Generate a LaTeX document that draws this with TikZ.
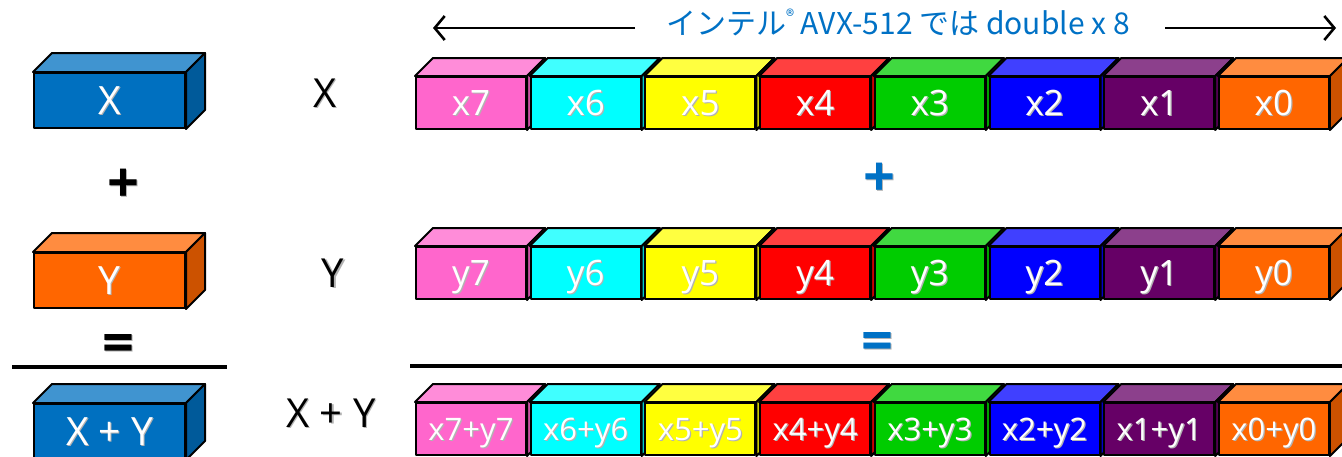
\documentclass[tikz,border=0pt]{standalone}
\usepackage{fontspec}
\setmainfont{Open Sans}
\newfontfamily\jpfont{Noto Sans CJK JP}
\usetikzlibrary{arrows.meta, positioning}
\definecolor{colIntel}{RGB}{0, 113, 197}
\definecolor{colBlock}{RGB}{0, 112, 192}
\definecolor{colPink}{RGB}{255, 102, 204}
\definecolor{colCyan}{RGB}{0, 255, 255}
\definecolor{colYellow}{RGB}{255, 255, 0}
\definecolor{colRed}{RGB}{255, 0, 0}
\definecolor{colGreen}{RGB}{0, 204, 0}
\definecolor{colBlue}{RGB}{0, 0, 255}
\definecolor{colPurple}{RGB}{102, 0, 102}
\definecolor{colOrange}{RGB}{255, 102, 0}

% texte avec ombre portee
\newcommand{\shtext}[1]{\makebox[0pt][l]{\hspace{1.2pt}\raisebox{-1.2pt}{\textcolor{black!30}{#1}}}#1}
% faces dessus / cote d'un pave
\newcommand{\cubesides}[3]{%
  \draw[edge, fill=#2!75!white] (#1.north west) -- ++(#3,-#3)
    -- ([shift={(#3,-#3)}]#1.north east) -- (#1.north east) -- cycle;
  \draw[edge, fill=#2!80!black] (#1.north east) -- ++(#3,-#3)
    -- ([shift={(#3,-#3)}]#1.south east) -- (#1.south east) -- cycle;}

\begin{document}
\begin{tikzpicture}[
  x=1pt, y=-1pt,
  >={Straight Barb[length=10pt, width=24pt]},
  edge/.style={draw=black, line width=2pt, line join=round},
  face/.style={edge, fill=#1, inner sep=0pt, anchor=north west,
               text=white, text depth=0pt},
  lane/.style={face=#1, minimum width=110pt, minimum height=52pt,
               font=\fontsize{35}{40}\selectfont, text height=25pt},
  sumlane/.style={lane=#1, font=\fontsize{31}{36}\selectfont, text height=22pt},
  block/.style={face=#1, minimum width=151pt, minimum height=55pt,
                font=\fontsize{39}{44}\selectfont, text height=28pt},
  lbl/.style={font=\fontsize{40}{46}\selectfont, inner sep=0pt,
              text height=28.6pt, text depth=0pt},
  op/.style={font=\fontsize{56}{60}\selectfont\bfseries, inner sep=0pt,
             text height=40pt, text depth=0pt},
  hdr/.style={font=\jpfont\fontsize{30}{34}\selectfont, text=colIntel, inner sep=0pt},
  hdrarrow/.style={->, line width=2.6pt},
  rule/.style={line width=4pt}
]
\useasboundingbox (0,0) rectangle (1342,456);
\clip (0,0) rectangle (1342,456);

% ---------- en-tete ----------
\node[hdr] (hdr) at (898,22)
  {インテル\raisebox{0.4em}{\fontsize{17}{17}\selectfont ®} AVX-512 では double x 8};
\coordinate (arrLs) at (635,28);
\coordinate (arrL)  at (433,28);
\coordinate (arrRs) at (1165,28);
\coordinate (arrR)  at (1336,28);
\draw[hdrarrow] (arrLs) -- (arrL);
\draw[hdrarrow] (arrRs) -- (arrR);

% ---------- colonne de gauche ----------
\node[block=colBlock] (bx) at (33,72) {\shtext{X}};
\cubesides{bx}{colBlock}{19}
\node[op] (plusL) at (123,182) {\shtext{+}};
\node[block=colOrange] (by) at (33,252) {\shtext{Y}};
\cubesides{by}{colOrange}{19}
\node[op] (eqL) at (118,342) {\shtext{=}};
\coordinate (ruleLa) at (12,367);
\coordinate (ruleLb) at (227,367);
\draw[rule] (ruleLa) -- (ruleLb);
\node[block=colBlock] (bs) at (33,403) {\shtext{X + Y}};
\cubesides{bs}{colBlock}{19}

% ---------- etiquettes ----------
\node[lbl] (lx) at (325,93)  {\shtext{X}};
\node[lbl] (ly) at (333,273) {\shtext{Y}};
\node[lbl] (ls) at (331,413) {\shtext{X + Y}};

% ---------- registres ----------
\foreach \c/\i [count=\k from 0] in {colPink/7, colCyan/6, colYellow/5, colRed/4,
                                      colGreen/3, colBlue/2, colPurple/1, colOrange/0}{
  \node[lane=\c] (x\i) at (415+\k*114.7,76) {\shtext{x\i}};
  \cubesides{x\i}{\c}{18}
  \node[lane=\c] (y\i) at (415+\k*114.7,246) {\shtext{y\i}};
  \cubesides{y\i}{\c}{18}
  \node[sumlane=\c] (s\i) at (415+\k*114.7,402) {\shtext{x\i+y\i}};
  \cubesides{s\i}{\c}{18}
}

\node[op, text=colIntel] (plusR) at (879,176) {\shtext{+}};
\node[op, text=colIntel] (eqR) at (877,340) {\shtext{=}};
\coordinate (ruleRa) at (410,366);
\coordinate (ruleRb) at (1342,366);
\draw[rule] (ruleRa) -- (ruleRb);

\end{tikzpicture}
\end{document}
